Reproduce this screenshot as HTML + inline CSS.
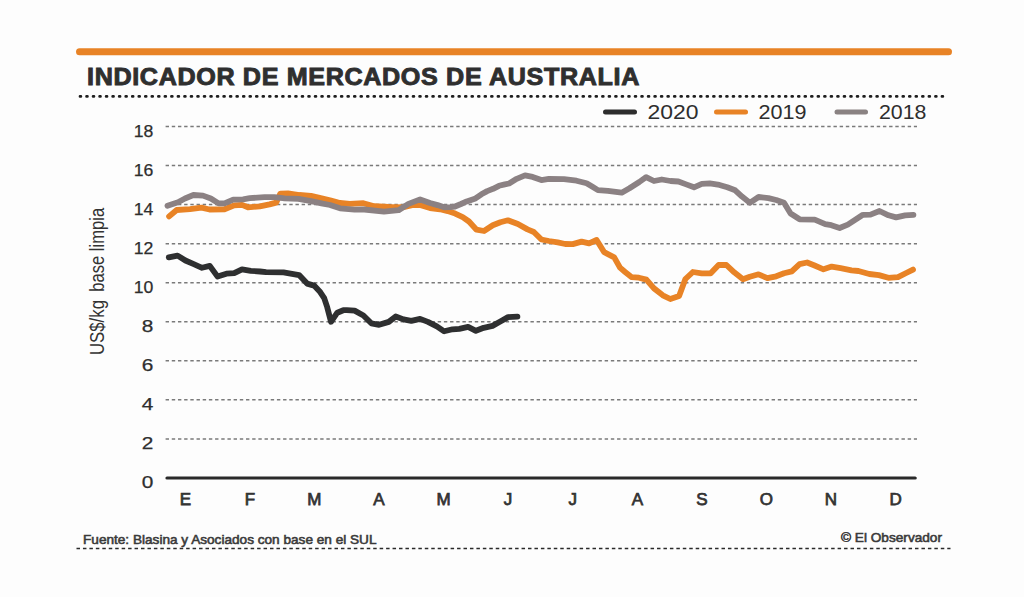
<!DOCTYPE html>
<html><head><meta charset="utf-8"><style>
html,body{margin:0;padding:0;background:#fdfdfd;}
body{width:1024px;height:597px;overflow:hidden;}
svg{display:block;}
text{font-family:"Liberation Sans",sans-serif;}
.g{stroke:#7a7a7a;stroke-width:1.5;stroke-dasharray:3.4 2.784;}
.yl{font-size:17px;fill:#2e2e2e;stroke:#2e2e2e;stroke-width:0.25px;text-anchor:end;}
.ml{font-size:17px;fill:#333;stroke:#333;stroke-width:0.75px;text-anchor:middle;}
.ln{fill:none;stroke-width:5.8;stroke-linejoin:round;stroke-linecap:round;}
</style></head><body>
<svg width="1024" height="597" viewBox="0 0 1024 597">
<rect width="1024" height="597" fill="#fdfdfd"/>
<line x1="79.5" y1="51.7" x2="948.5" y2="51.7" stroke="#e88326" stroke-width="7" stroke-linecap="round"/>
<text x="87" y="84.7" style="font-size:23.5px;font-weight:bold;fill:#2f2f2f;stroke:#2f2f2f;stroke-width:0.9px;letter-spacing:0.6px" textLength="553" lengthAdjust="spacingAndGlyphs">INDICADOR DE MERCADOS DE AUSTRALIA</text>
<line x1="80" y1="96.4" x2="947" y2="96.4" stroke="#1e1e1e" stroke-width="2.7" stroke-dasharray="0.9 5.63" stroke-linecap="round"/>
<line x1="605.5" y1="112" x2="634.5" y2="112" stroke="#2d2d2d" stroke-width="5" stroke-linecap="round"/>
<text x="647.5" y="118.5" style="font-size:20px;fill:#2e2e2e" textLength="51" lengthAdjust="spacingAndGlyphs">2020</text>
<line x1="716.5" y1="112" x2="745.5" y2="112" stroke="#e88326" stroke-width="5" stroke-linecap="round"/>
<text x="758.6" y="118.5" style="font-size:20px;fill:#2e2e2e" textLength="48" lengthAdjust="spacingAndGlyphs">2019</text>
<line x1="837" y1="112" x2="865.5" y2="112" stroke="#8a8282" stroke-width="5" stroke-linecap="round"/>
<text x="879" y="118.5" style="font-size:20px;fill:#2e2e2e" textLength="47.5" lengthAdjust="spacingAndGlyphs">2018</text>
<line x1="165.6" y1="438.9" x2="917" y2="438.9" class="g"/>
<line x1="165.6" y1="399.8" x2="917" y2="399.8" class="g"/>
<line x1="165.6" y1="360.8" x2="917" y2="360.8" class="g"/>
<line x1="165.6" y1="321.7" x2="917" y2="321.7" class="g"/>
<line x1="165.6" y1="282.7" x2="917" y2="282.7" class="g"/>
<line x1="165.6" y1="243.7" x2="917" y2="243.7" class="g"/>
<line x1="165.6" y1="204.6" x2="917" y2="204.6" class="g"/>
<line x1="165.6" y1="165.6" x2="917" y2="165.6" class="g"/>
<line x1="165.6" y1="126.5" x2="917" y2="126.5" class="g"/>

<line x1="167" y1="478" x2="915.2" y2="478" stroke="#2a2a2a" stroke-width="3.2" stroke-linecap="round"/>
<text x="153.3" y="488.1" class="yl" textLength="11.6" lengthAdjust="spacingAndGlyphs">0</text>
<text x="153.3" y="449.1" class="yl" textLength="11.6" lengthAdjust="spacingAndGlyphs">2</text>
<text x="153.3" y="410.0" class="yl" textLength="11.6" lengthAdjust="spacingAndGlyphs">4</text>
<text x="153.3" y="371.0" class="yl" textLength="11.6" lengthAdjust="spacingAndGlyphs">6</text>
<text x="153.3" y="331.9" class="yl" textLength="11.6" lengthAdjust="spacingAndGlyphs">8</text>
<text x="153.3" y="292.9" class="yl" textLength="19.6" lengthAdjust="spacingAndGlyphs">10</text>
<text x="153.3" y="253.9" class="yl" textLength="19.6" lengthAdjust="spacingAndGlyphs">12</text>
<text x="153.3" y="214.8" class="yl" textLength="19.6" lengthAdjust="spacingAndGlyphs">14</text>
<text x="153.3" y="175.8" class="yl" textLength="19.6" lengthAdjust="spacingAndGlyphs">16</text>
<text x="153.3" y="136.7" class="yl" textLength="19.6" lengthAdjust="spacingAndGlyphs">18</text>

<text x="185.3" y="504.9" class="ml">E</text>
<text x="249.9" y="504.9" class="ml">F</text>
<text x="314.4" y="504.9" class="ml">M</text>
<text x="379.0" y="504.9" class="ml">A</text>
<text x="443.6" y="504.9" class="ml">M</text>
<text x="508.1" y="504.9" class="ml">J</text>
<text x="572.7" y="504.9" class="ml">J</text>
<text x="637.3" y="504.9" class="ml">A</text>
<text x="701.9" y="504.9" class="ml">S</text>
<text x="766.4" y="504.9" class="ml">O</text>
<text x="831.0" y="504.9" class="ml">N</text>
<text x="895.6" y="504.9" class="ml">D</text>

<text transform="translate(103.5,355) rotate(-90)" style="font-size:19.5px;fill:#333" textLength="55" lengthAdjust="spacingAndGlyphs">US$/kg</text>
<text transform="translate(103.5,291.8) rotate(-90)" style="font-size:19.5px;fill:#333" textLength="84" lengthAdjust="spacingAndGlyphs">base limpia</text>
<path d="M169.1,216.4 L176.7,210.0 L190.0,209.2 L201.5,207.7 L209.5,209.5 L224.5,209.3 L234.2,205.4 L242.0,204.9 L247.9,207.3 L259.8,206.4 L269.5,204.4 L276.2,202.6 L280.4,193.6 L288.0,193.4 L299.3,195.0 L311.0,195.8 L322.7,198.5 L330.0,200.2 L340.0,203.0 L349.8,203.9 L363.4,203.2 L374.2,206.2 L388.8,207.0 L403.5,207.3 L413.2,204.9 L420.0,205.0 L430.0,208.0 L440.0,209.3 L447.7,211.1 L455.2,213.6 L462.7,217.1 L469.0,221.5 L476.5,229.7 L484.0,231.0 L492.8,225.3 L500.4,222.2 L507.9,220.3 L517.9,224.0 L527.5,229.4 L533.8,232.0 L541.4,239.5 L548.9,241.0 L557.7,242.4 L565.2,244.0 L572.8,244.1 L581.6,241.6 L589.1,243.4 L596.6,240.0 L604.2,252.2 L607.9,254.1 L614.2,257.3 L620.0,267.6 L625.1,272.0 L631.4,277.1 L638.9,277.7 L646.4,279.6 L654.0,288.4 L662.8,295.3 L670.3,299.0 L679.1,295.9 L685.4,279.0 L692.9,272.0 L701.7,273.3 L710.7,273.3 L718.6,265.0 L726.4,265.0 L734.2,272.3 L743.0,279.2 L749.8,276.7 L758.6,274.3 L767.4,278.2 L776.2,276.3 L784.0,273.3 L791.8,271.4 L799.6,264.1 L807.1,262.5 L814.6,265.5 L823.5,269.3 L831.7,266.6 L840.6,268.2 L851.5,270.3 L858.4,271.0 L869.3,274.0 L878.9,275.1 L888.4,277.8 L898.0,277.1 L906.2,273.0 L913.0,269.6" class="ln" stroke="#e88326"/>
<path d="M167.5,205.8 L178.0,202.3 L185.0,198.5 L193.4,195.0 L203.0,195.6 L210.8,198.5 L218.6,203.4 L224.5,203.4 L233.2,199.6 L243.0,199.3 L249.8,198.2 L264.6,197.2 L274.4,197.1 L284.6,198.3 L298.5,198.8 L311.0,201.1 L322.7,203.7 L330.0,205.0 L340.0,208.3 L354.6,209.6 L364.4,209.5 L384.0,211.6 L398.6,210.2 L408.4,203.9 L420.1,199.4 L430.0,203.0 L437.6,205.1 L444.1,207.3 L450.2,207.1 L455.0,206.5 L461.0,204.0 L466.7,201.4 L475.5,198.4 L481.4,194.3 L487.2,191.1 L493.1,188.8 L499.0,185.8 L504.8,184.4 L509.1,183.5 L516.7,178.8 L525.0,175.3 L532.6,176.9 L541.4,180.1 L548.9,178.8 L564.0,179.2 L576.5,180.7 L586.6,183.2 L592.9,187.0 L597.9,190.1 L607.9,190.8 L621.7,192.7 L629.5,188.3 L639.3,182.0 L646.1,177.1 L654.0,181.0 L661.8,179.5 L670.5,181.0 L678.4,181.5 L686.2,184.4 L694.0,187.3 L701.8,183.9 L709.8,183.4 L719.5,184.9 L727.3,187.3 L735.2,190.3 L742.0,196.6 L749.8,202.8 L758.6,197.0 L768.4,198.1 L776.2,200.0 L784.0,202.8 L790.6,213.5 L799.6,219.3 L814.7,219.7 L825.2,224.2 L831.3,225.2 L839.6,228.0 L847.8,224.6 L862.9,214.8 L870.5,214.6 L879.5,211.0 L888.5,215.3 L896.1,217.4 L905.1,215.4 L913.4,214.8" class="ln" stroke="#8b8183"/>
<path d="M168.8,257.4 L177.6,255.6 L185.4,260.5 L193.2,263.9 L202.0,267.8 L209.8,265.9 L217.6,276.6 L226.4,273.7 L234.2,273.2 L242.0,269.3 L250.8,270.8 L260.0,271.5 L266.1,272.2 L283.5,272.4 L299.1,275.1 L307.1,283.6 L314.1,285.6 L320.2,292.1 L324.2,298.2 L327.2,307.2 L331.0,321.8 L337.3,312.7 L343.3,310.2 L346.8,310.1 L354.6,310.6 L363.4,315.5 L371.3,323.3 L379.1,324.8 L388.8,321.9 L395.7,316.5 L403.5,319.4 L411.3,320.9 L420.1,318.9 L427.9,321.9 L436.8,326.4 L444.2,331.3 L452.5,329.3 L459.3,328.8 L468.1,326.9 L475.9,330.8 L483.7,327.8 L492.5,325.9 L500.3,321.5 L508.1,317.1 L517.4,316.6" class="ln" stroke="#2e2f30"/>
<text x="83" y="544.1" style="font-size:12.4px;fill:#3a3a3a;stroke:#3a3a3a;stroke-width:0.55px" textLength="293.5" lengthAdjust="spacingAndGlyphs">Fuente: Blasina y Asociados con base en el SUL</text>
<text x="841" y="541.6" style="font-size:12.4px;fill:#3a3a3a;stroke:#3a3a3a;stroke-width:0.55px" textLength="101" lengthAdjust="spacingAndGlyphs">© El Observador</text>
<line x1="76.5" y1="548.5" x2="950.5" y2="548.5" stroke="#2a2a2a" stroke-width="1.4" stroke-dasharray="3.5 2.95"/>
</svg>
</body></html>
